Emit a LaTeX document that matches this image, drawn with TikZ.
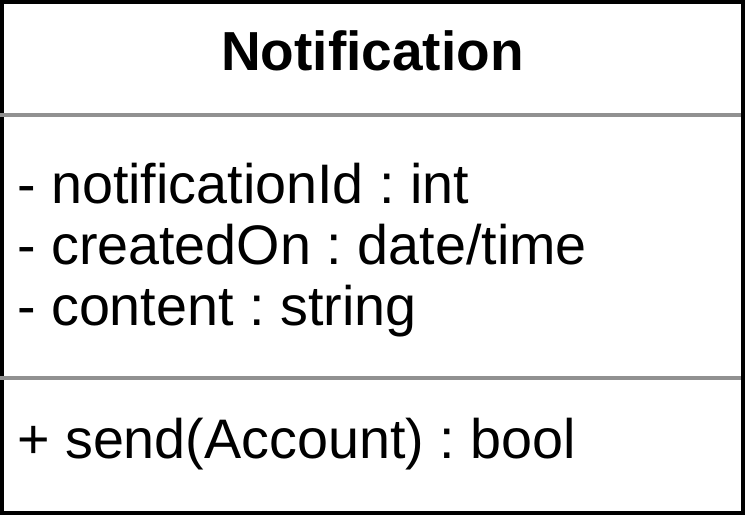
\documentclass[tikz,border=0pt]{standalone}
\usepackage{fontspec}
\setmainfont{Liberation Sans}
\usepackage{xcolor}
\usepackage{tikz}
\usetikzlibrary{positioning, calc}
\frenchspacing
\definecolor{SepColor}{rgb}{0.57,0.57,0.57}
\tikzset{
    classbox/.style={
        draw=black,
        line width=4pt
    },
    sepline/.style={
        draw=SepColor,
        line width=4pt
    },
    classname/.style={
        font=\fontsize{55}{66}\selectfont\bfseries,
        anchor=base,
        inner sep=0pt
    },
    member/.style={
        font=\fontsize{55.7}{66}\selectfont,
        anchor=base west,
        inner sep=0pt
    }
}

\begin{document}
\begin{tikzpicture}[x=1pt, y=-1pt]
\useasboundingbox (0, 0) rectangle (745, 515);

% Box and compartments
\draw[classbox] (2, 2) rectangle (743, 513);
\coordinate (sep1l) at (0, 114.5);
\coordinate (sep1r) at (741, 114.5);
\coordinate (sep2l) at (0, 377.5);
\coordinate (sep2r) at (741, 377.5);
\draw[sepline] (sep1l) -- (sep1r);
\draw[sepline] (sep2l) -- (sep2r);

% Name
\node[classname] (n_name) at (372.5, 70) {Notification};

% Attributes
\node[member] (n_id) at (17, 203) {- notificationId : int};
\node[member] (n_created) at (17, 264) {- createdOn : date/time};
\node[member] (n_content) at (17, 325) {- content : string};

% Operations
\node[member] (n_send) at (17, 458) {+ send(Account) : bool};

\end{tikzpicture}
\end{document}
